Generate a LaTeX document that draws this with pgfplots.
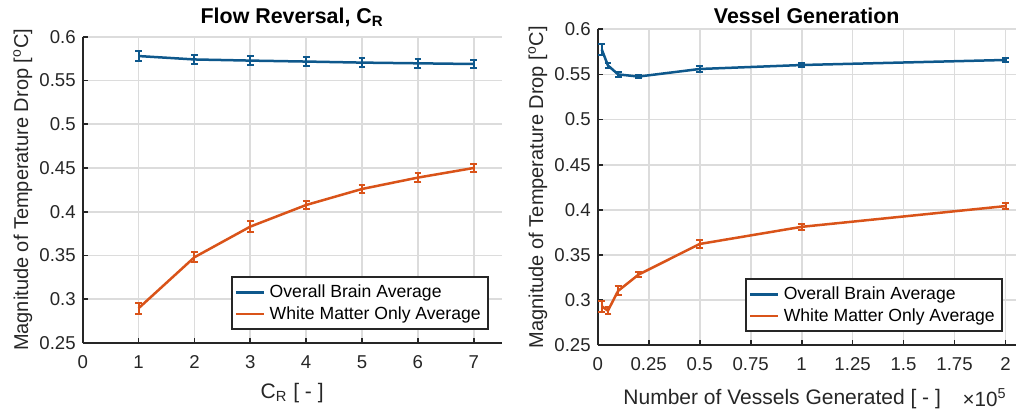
\documentclass[border=0pt]{standalone}
\usepackage{fontspec}
\setmainfont{Liberation Sans}
\usepackage{pgfplots}
\pgfplotsset{compat=1.18}

\definecolor{mblue}{RGB}{14,88,140}
\definecolor{morange}{RGB}{217,83,25}
\definecolor{axgray}{RGB}{38,38,38}
\definecolor{gridgray}{RGB}{220,220,220}

\pgfplotsset{
  panel/.style={
    scale only axis,
    anchor=south west,
    axis x line*=bottom,
    axis y line*=left,
    hide obscured x ticks=false,
    hide obscured y ticks=false,
    axis line style={axgray, line width=1pt},
    tick align=inside,
    major tick length=2.5pt,
    tick style={axgray, line width=0.9pt},
    grid=major,
    major grid style={gridgray, line width=0.9pt},
    ymin=0.25, ymax=0.6,
    ytick={0.25,0.3,0.35,0.4,0.45,0.5,0.55,0.6},
    /pgf/number format/assume math mode=true,
    tick label style={font=\fontsize{9.3}{11}\selectfont, text=axgray},
    xticklabel style={yshift=-2.6pt},
    ylabel={Magnitude of Temperature Drop [\textsuperscript{o}C]},
    every axis y label/.style={at={(axis description cs:0,0.5)}, anchor=center,
      xshift=-30pt, rotate=90, font=\fontsize{10}{12}\selectfont, text=axgray},
    legend style={font=\fontsize{8.8}{10.5}\selectfont, draw=axgray, line width=1pt,
      at={(axis description cs:1,0)}, anchor=south east, xshift=-6.5pt, yshift=6.5pt,
      inner sep=1.5pt, row sep=-1pt},
    legend cell align=left,
    legend image code/.code={\draw[#1, line width=1.3pt] (0cm,0cm) -- (0.5cm,0cm);},
    error bars/error bar style={line width=1pt},
    error bars/error mark options={rotate=90, mark size=1.7pt, line width=1pt},
  },
  series/.style={#1, line width=1.25pt, mark=none,
    error bars/.cd, y dir=both, y explicit},
}

\begin{document}
\begin{tikzpicture}
\useasboundingbox (0,0) rectangle (510pt,206pt);

% left panel: flow reversal
\begin{axis}[panel,
  at={(41.35pt,34.5pt)}, width=209.5pt, height=153.15pt,
  xmin=0, xmax=7.5, xtick={0,1,2,3,4,5,6,7},
  title={Flow Reversal, C\textsubscript{R}},
  every axis title/.style={at={(axis description cs:0.5,1)}, anchor=base, yshift=6.85pt,
    font=\bfseries\fontsize{10.7}{13}\selectfont},
  xlabel={C\textsubscript{R} [ - ]},
  every axis x label/.style={at={(axis description cs:0.5,0)}, anchor=base, yshift=-27.7pt,
    font=\fontsize{10.5}{12}\selectfont, text=axgray},
]
\addplot[series=mblue] coordinates {
  (1,0.5779) +- (0,0.006) (2,0.5740) +- (0,0.005) (3,0.5727) +- (0,0.005)
  (4,0.5716) +- (0,0.005) (5,0.5704) +- (0,0.005) (6,0.5696) +- (0,0.005)
  (7,0.5688) +- (0,0.005)
};
\addlegendentry{Overall Brain Average}
\addplot[series=morange] coordinates {
  (1,0.2897) +- (0,0.006) (2,0.3480) +- (0,0.006) (3,0.3830) +- (0,0.006)
  (4,0.4077) +- (0,0.005) (5,0.4260) +- (0,0.005) (6,0.4390) +- (0,0.005)
  (7,0.4500) +- (0,0.005)
};
\addlegendentry{White Matter Only Average}
\end{axis}

% right panel: vessel generation (x in units of 1e5)
\begin{axis}[panel,
  at={(298.85pt,33.5pt)}, width=209pt, height=157.85pt,
  xmin=0, xmax=2.05, xtick={0,0.25,0.5,0.75,1,1.25,1.5,1.75,2},
  title={Vessel Generation},
  every axis title/.style={at={(axis description cs:0.5,1)}, anchor=base, yshift=3.15pt,
    font=\bfseries\fontsize{10.7}{13}\selectfont},
  xlabel={Number of Vessels Generated [ - ]},
  every axis x label/.style={at={(axis description cs:0.838,0)}, anchor=base east, yshift=-29.5pt,
    font=\fontsize{10.5}{12}\selectfont, text=axgray},
  after end axis/.code={
    \node[anchor=base east, font=\fontsize{10.3}{12}\selectfont, text=axgray]
      at (rel axis cs:1,0) [xshift=-1pt, yshift=-30.5pt] {×10\textsuperscript{5}};
  },
]
\addplot[series=mblue] coordinates {
  (0.02,0.5776) +- (0,0.006) (0.05,0.5600) +- (0,0.003) (0.1,0.5500) +- (0,0.003)
  (0.2,0.5476) +- (0,0.002) (0.5,0.5560) +- (0,0.003) (1,0.5604) +- (0,0.002)
  (2,0.5660) +- (0,0.002)
};
\addlegendentry{Overall Brain Average}
\addplot[series=morange] coordinates {
  (0.02,0.2930) +- (0,0.006) (0.05,0.2880) +- (0,0.004) (0.1,0.3100) +- (0,0.005)
  (0.2,0.3280) +- (0,0.003) (0.5,0.3620) +- (0,0.004) (1,0.3810) +- (0,0.003)
  (2,0.4040) +- (0,0.003)
};
\addlegendentry{White Matter Only Average}
\end{axis}
\end{tikzpicture}
\end{document}
